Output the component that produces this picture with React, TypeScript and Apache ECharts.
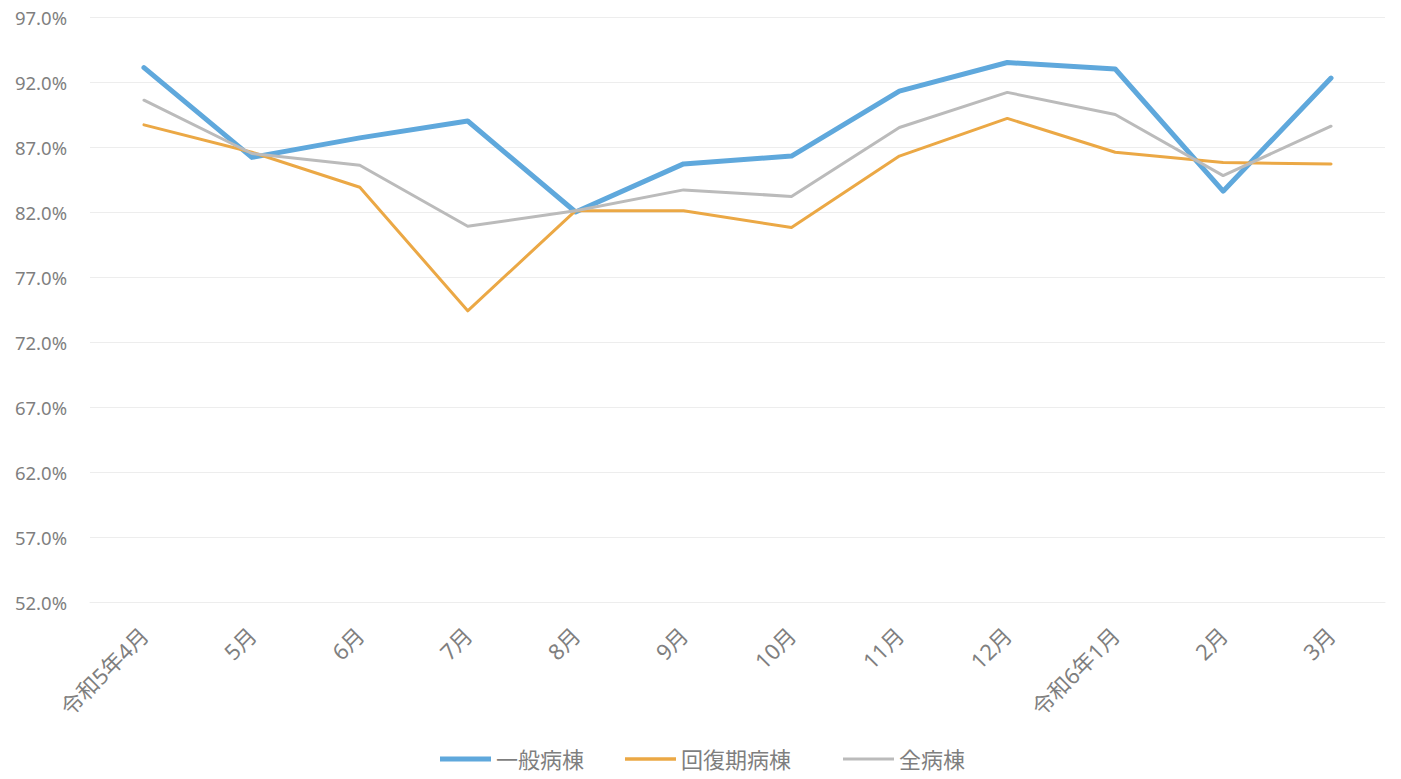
import React, { useEffect, useRef } from "react";
import * as echarts from "echarts";

const categories = ["令和5年4月", "5月", "6月", "7月", "8月", "9月", "10月", "11月", "12月", "令和6年1月", "2月", "3月"];
const seriesNames = ["一般病棟", "回復期病棟", "全病棟"];
const general = [93.1, 86.2, 87.7, 89.0, 82.0, 85.7, 86.3, 91.3, 93.5, 93.0, 83.6, 92.3];
const recovery = [88.7, 86.6, 83.9, 74.4, 82.1, 82.1, 80.8, 86.3, 89.2, 86.6, 85.8, 85.7];
const allWards = [90.6, 86.5, 85.6, 80.9, 82.1, 83.7, 83.2, 88.5, 91.2, 89.5, 84.8, 88.6];
const yMin = 52;
const yMax = 97;
const yStep = 5;

const FONT = "'Noto Sans', 'Noto Sans CJK JP', sans-serif";
const TEXT = "#7f7f7f";

export default function App() {
  const ref = useRef<HTMLDivElement>(null);
  useEffect(() => {
    document.body.style.margin = "0";
    const chart = echarts.init(ref.current!, null, { renderer: "svg" });
    const colors = ["#5FA8DC", "#EBA845", "#BBBBBB"];
    const widths = [5, 3, 3];
    const legendLeft = [435, 620, 838];
    const legendIconH = [5, 3.5, 3];
    const datas = [general, recovery, allWards];
    chart.setOption({
      animation: false,
      backgroundColor: "#ffffff",
      textStyle: { fontFamily: FONT },
      grid: { left: 90, right: 16, top: 17, bottom: 177, containLabel: false },
      legend: seriesNames.map((name, i) => ({
        bottom: 4,
        left: legendLeft[i],
        itemWidth: 51,
        itemHeight: legendIconH[i],
        icon: "rect",
        textStyle: { color: TEXT, fontSize: 22, fontFamily: FONT },
        data: [name],
      })),
      xAxis: {
        type: "category",
        data: categories,
        boundaryGap: true,
        axisLine: { show: true, lineStyle: { color: "#EDEDED" } },
        axisTick: { show: false },
        axisLabel: { rotate: 45, color: TEXT, fontSize: 22, margin: 29, fontFamily: FONT, interval: 0 },
      },
      yAxis: {
        type: "value",
        min: yMin,
        max: yMax,
        interval: yStep,
        axisLine: { show: false },
        axisTick: { show: false },
        splitLine: { lineStyle: { color: "#EDEDED", width: 1 } },
        axisLabel: {
          color: TEXT,
          fontSize: 18.5,
          margin: 23,
          fontFamily: FONT,
          formatter: (v: number) => v.toFixed(1) + "%",
        },
      },
      series: seriesNames.map((name, i) => ({
        name,
        type: "line",
        data: datas[i],
        showSymbol: false,
        symbol: "none",
        color: colors[i],
        lineStyle: { color: colors[i], width: widths[i], cap: "round", join: "round" },
      })),
    });
    return () => chart.dispose();
  }, []);
  return <div ref={ref} style={{ width: 1401, height: 779 }} />;
}
